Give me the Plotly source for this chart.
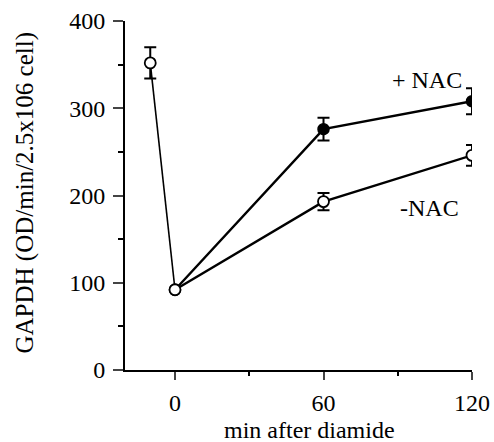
import plotly.graph_objects as go

# Data
times_minus = [-10, 0, 60, 120]
gapdh_minus = [352, 92, 193, 246]
err_minus = [18, 0, 10, 12]

times_plus = [0, 60, 120]
gapdh_plus = [92, 276, 308]
err_plus = [0, 13, 15]

x_ticks = [0, 60, 120]
y_ticks = [0, 100, 200, 300, 400]

FONT = "Liberation Serif, Times New Roman, serif"
FS = 24

fig = go.Figure()

# initial thin segment (-10 -> 0)
fig.add_trace(go.Scatter(
    x=times_minus[:2], y=gapdh_minus[:2], mode="lines",
    line=dict(color="black", width=1.6), showlegend=False, hoverinfo="skip"))

# + NAC
fig.add_trace(go.Scatter(
    x=times_plus, y=gapdh_plus, mode="lines+markers",
    line=dict(color="black", width=2.4),
    marker=dict(symbol="circle", size=11, color="black", line=dict(color="black", width=1.5)),
    error_y=dict(type="data", array=err_plus, visible=True, color="black", thickness=2, width=6),
    showlegend=False))

# - NAC line (0 -> 120)
fig.add_trace(go.Scatter(
    x=times_minus[1:], y=gapdh_minus[1:], mode="lines",
    line=dict(color="black", width=2.4), showlegend=False, hoverinfo="skip"))

# - NAC markers (open)
fig.add_trace(go.Scatter(
    x=times_minus, y=gapdh_minus, mode="markers",
    marker=dict(symbol="circle", size=11, color="white", line=dict(color="black", width=1.8)),
    error_y=dict(type="data", array=err_minus, visible=True, color="black", thickness=2, width=6),
    showlegend=False))

fig.update_layout(
    width=494, height=442,
    margin=dict(l=125, r=22, t=21, b=72, autoexpand=False),
    paper_bgcolor="white", plot_bgcolor="white",
    font=dict(family=FONT, color="black", size=FS),
    xaxis=dict(range=[-20.2, 120], tickvals=x_ticks, ticks="outside", ticklen=8, tickwidth=1.5,
               showline=True, linecolor="black", linewidth=2, showgrid=False, zeroline=False,
               automargin=False,
               tickfont=dict(size=FS, family=FONT), ticklabelstandoff=2,
               minor=dict(tickvals=[30, 90], ticks="outside", ticklen=4, tickwidth=1.5, tickcolor="black", showgrid=False)),
    yaxis=dict(range=[0, 400], tickvals=y_ticks, ticks="outside", ticklen=10, tickwidth=1.5,
               showline=True, linecolor="black", linewidth=2, showgrid=False, zeroline=False,
               automargin=False,
               tickfont=dict(size=FS, family=FONT), ticklabelstandoff=3,
               minor=dict(tickvals=[50, 150, 250, 350], ticks="outside", ticklen=5, tickwidth=1.5, tickcolor="black", showgrid=False)),
    annotations=[
        dict(text="GAPDH (OD/min/2.5x106 cell)", xref="paper", yref="paper", x=0, y=0.5,
             xshift=-101, yshift=3, textangle=-90, showarrow=False, font=dict(size=25, family=FONT),
             xanchor="center", yanchor="middle"),
        dict(text="min after diamide", xref="x", yref="paper", x=54.3, y=0, yshift=-60,
             showarrow=False, font=dict(size=FS, family=FONT), xanchor="center", yanchor="middle"),
        dict(text="+ NAC", xref="x", yref="y", x=102, y=332, showarrow=False,
             font=dict(size=FS, family=FONT), xanchor="center", yanchor="middle"),
        dict(text="-NAC", xref="x", yref="y", x=103, y=186, showarrow=False,
             font=dict(size=FS, family=FONT), xanchor="center", yanchor="middle"),
    ],
)

fig.write_html("out.html", config={"displayModeBar": False},
               post_script="document.body.style.margin='0';document.documentElement.style.overflow='hidden';")
